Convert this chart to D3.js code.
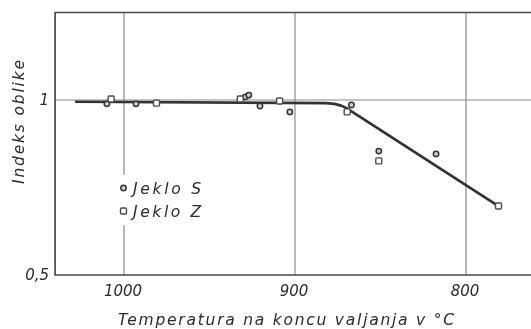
<!DOCTYPE html>
<html>
<head>
<meta charset="utf-8">
<script src="https://cdn.jsdelivr.net/npm/d3@7"></script>
<style>
  html, body { margin: 0; padding: 0; background: #fff; }
  svg { display: block; }
  text { font-family: "DejaVu Sans", sans-serif; font-style: italic; fill: #2a2a2a; }
</style>
</head>
<body>
<div id="chart"></div>
<script>
// Shape index versus finish rolling temperature
const xTicks = [1000, 900, 800];
const yTicks = [1, 0.5];
const yTickLabels = ["1", "0,5"];

// Steel S (circles): [temperature °C, shape index]
const steelS = [
  [1010, 0.989], [993, 0.989], [929, 1.009], [927, 1.014], [920.5, 0.983],
  [903, 0.966], [867, 0.986], [851, 0.854], [817.5, 0.846]
];
// Steel Z (squares)
const steelZ = [
  [1007.5, 1.003], [981, 0.991], [932, 1.003], [909, 0.997], [869.5, 0.966],
  [851, 0.826], [781, 0.697]
];
// Fitted trend
const trend = [
  [1028, 0.995], [882, 0.991], [877, 0.989], [873, 0.984], [869.5, 0.976], [866.5, 0.966], [781, 0.697]
];

const legendItems = [
  { label: "Jeklo S", shape: "circle" },
  { label: "Jeklo Z", shape: "square" }
];

const W = 531, H = 329;
const svg = d3.select("#chart").append("svg").attr("width", W).attr("height", H);

// soft scan-like edges
svg.append("defs").append("filter").attr("id", "soft")
  .append("feGaussianBlur").attr("stdDeviation", 0.45);
const root = svg.append("g").attr("filter", "url(#soft)");

const x = d3.scaleLinear().domain([1000, 800]).range([124, 466]);
const y = d3.scaleLinear().domain([0.5, 1]).range([275, 100]);
const xLeft = x(1040.3), xRight = 540;
const yTop = y(1.25), yBottom = y(0.5);

// gridlines
const grid = root.append("g").attr("stroke", "#8a8a8a").attr("stroke-width", 1.2);
grid.selectAll("line.v").data(xTicks).join("line")
  .attr("x1", d => x(d)).attr("x2", d => x(d))
  .attr("y1", yTop).attr("y2", yBottom);
grid.append("line")
  .attr("x1", xLeft).attr("x2", xRight)
  .attr("y1", y(1)).attr("y2", y(1));

// frame (left, top, bottom)
root.append("path")
  .attr("d", `M${xRight},${yTop}H${xLeft}V${yBottom}H${xRight}`)
  .attr("stroke", "#4a4a4a").attr("stroke-width", 1.7).attr("fill", "none");

// x tick labels
const xAxis = d3.axisBottom(x).tickValues(xTicks).tickSize(0).tickPadding(0).tickFormat(d3.format("d"));
const gx = root.append("g").attr("transform", `translate(0,${yBottom + 8})`).call(xAxis);
gx.select(".domain").remove();
gx.selectAll("text").attr("font-size", 15).attr("font-family", "DejaVu Sans").attr("font-style", "italic")
  .attr("fill", "#2a2a2a").attr("dy", "0.85em").attr("dx", -1.5);

// y tick labels
const yAxis = d3.axisLeft(y).tickValues(yTicks).tickSize(0).tickPadding(0)
  .tickFormat((d, i) => yTickLabels[i]);
const gy = root.append("g").attr("transform", `translate(${xLeft - 6},0)`).call(yAxis);
gy.select(".domain").remove();
gy.selectAll("text").attr("font-size", 15).attr("font-family", "DejaVu Sans").attr("font-style", "italic")
  .attr("fill", "#2a2a2a");

// axis titles
root.append("text")
  .attr("x", 286).attr("y", 325).attr("text-anchor", "middle")
  .attr("font-size", 15.5).attr("textLength", 336).attr("lengthAdjust", "spacing")
  .text("Temperatura na koncu valjanja v °C");
root.append("text")
  .attr("transform", `translate(24,122) rotate(-90)`).attr("text-anchor", "middle")
  .attr("font-size", 15.5).attr("textLength", 124).attr("lengthAdjust", "spacing")
  .text("Indeks oblike");

// legend, on a white patch over the grid
const lg = root.append("g");
lg.append("rect").attr("x", 116).attr("y", 175).attr("width", 92).attr("height", 50).attr("fill", "#fff");

// trend line
const line = d3.line().x(d => x(d[0])).y(d => y(d[1]));
root.append("path").datum(trend)
  .attr("d", line).attr("fill", "none").attr("stroke", "#333").attr("stroke-width", 2.7)
  .attr("stroke-linejoin", "round").attr("stroke-linecap", "round");

// markers
function drawCircle(sel, cx, cy) {
  sel.append("circle").attr("cx", cx).attr("cy", cy).attr("r", 2.7)
    .attr("fill", "#cfcfcf").attr("stroke", "#333").attr("stroke-width", 1.5);
}
function drawSquare(sel, cx, cy) {
  sel.append("rect").attr("x", cx - 3).attr("y", cy - 3).attr("width", 6).attr("height", 6)
    .attr("rx", 1.2).attr("fill", "#fff").attr("stroke", "#4a4a4a").attr("stroke-width", 1.4);
}
const pts = root.append("g");
steelS.forEach(d => drawCircle(pts, x(d[0]), y(d[1])));
steelZ.forEach(d => drawSquare(pts, x(d[0]), y(d[1])));

legendItems.forEach((item, i) => {
  const cy = 188 + i * 23;
  if (item.shape === "circle") drawCircle(lg, 123.5, cy); else drawSquare(lg, 123.5, cy);
  lg.append("text").attr("x", 133).attr("y", cy + 5.5)
    .attr("font-size", 15.5).attr("textLength", 68).attr("lengthAdjust", "spacing")
    .text(item.label);
});
</script>
</body>
</html>
